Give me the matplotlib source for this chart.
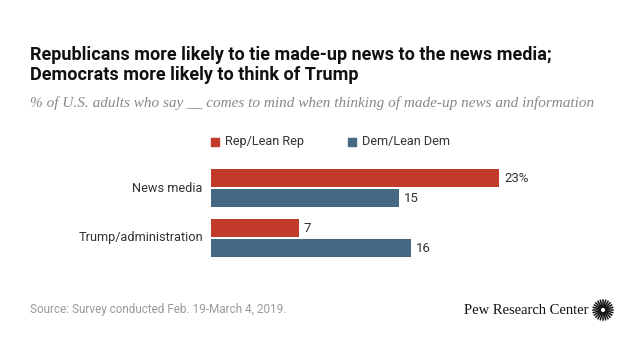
"""
Pew chart: where made-up news comes to mind, by party
"""

import numpy as np
import matplotlib.pyplot as plt

categories = ["News media", "Trump/administration"]
rep_values = [23, 7]
dem_values = [15, 16]
series_names = ["Rep/Lean Rep", "Dem/Lean Dem"]

REP_COLOR = "#c13a2b"
DEM_COLOR = "#466983"
SANS = ["Liberation Sans Narrow", "Roboto", "DejaVu Sans"]

fig = plt.figure(figsize=(6.4, 3.6), dpi=100)
fig.patch.set_facecolor("white")

ax = fig.add_axes([211 / 640, 94 / 360, 375.6 / 640, 106 / 360])
y = np.arange(len(categories))
ax.barh(y - 0.2, rep_values, height=0.36, color=REP_COLOR)
ax.barh(y + 0.2, dem_values, height=0.36, color=DEM_COLOR)
ax.set_xlim(0, 30)
ax.set_ylim(1.56, -0.56)
ax.axis("off")

for i, (r, d) in enumerate(zip(rep_values, dem_values)):
    r_txt = f"{r}%" if i == 0 else str(r)
    ax.text(r + 0.4, i - 0.2, r_txt, va="center", ha="left",
            fontsize=9.5, color="#333333", family=SANS)
    ax.text(d + 0.4, i + 0.2, str(d), va="center", ha="left",
            fontsize=9.5, color="#333333", family=SANS)
    ax.text(-0.65, i, categories[i], va="center", ha="right",
            fontsize=9.2, color="#333333", family=SANS)

# legend
for x0, name, col in [(211, series_names[0], REP_COLOR),
                      (348, series_names[1], DEM_COLOR)]:
    fig.patches.append(plt.Rectangle((x0 / 640, 1 - 146 / 360), 8 / 640, 8 / 360,
                                     transform=fig.transFigure, color=col))
    fig.text((x0 + 14) / 640, 1 - 142 / 360, name, va="center", ha="left",
             fontsize=9.2, color="#333333", family=SANS)

fig.text(30 / 640, 1 - 55 / 360,
         "Republicans more likely to tie made-up news to the news media;",
         fontsize=13, fontweight="bold", va="center", ha="left",
         color="#111111", family=SANS)
fig.text(30 / 640, 1 - 75 / 360, "Democrats more likely to think of Trump",
         fontsize=13, fontweight="bold", va="center", ha="left",
         color="#111111", family=SANS)
fig.text(30 / 640, 1 - 103 / 360,
         "% of U.S. adults who say __ comes to mind when thinking of made-up news and information",
         fontsize=11, style="italic", va="center", ha="left", color="#888888",
         family=["Liberation Serif", "DejaVu Serif"])

fig.text(30 / 640, 1 - 310 / 360, "Source: Survey conducted Feb. 19-March 4, 2019.",
         fontsize=8.5, va="center", ha="left", color="#9a9a9a", family=SANS)
fig.text(588 / 640, 1 - 310 / 360, "Pew Research Center", fontsize=10.5,
         va="center", ha="right", color="#111111",
         family=["Liberation Serif", "DejaVu Serif"])

# sunburst logo
cx, cy = 603, 310
for a in np.linspace(0, 2 * np.pi, 24, endpoint=False):
    fig.lines.append(plt.Line2D(
        [(cx + 3 * np.cos(a)) / 640, (cx + 10 * np.cos(a)) / 640],
        [1 - (cy + 3 * np.sin(a)) / 360, 1 - (cy + 10 * np.sin(a)) / 360],
        transform=fig.transFigure, color="#111111", lw=1.1))

fig.savefig("out.png", dpi=100)
